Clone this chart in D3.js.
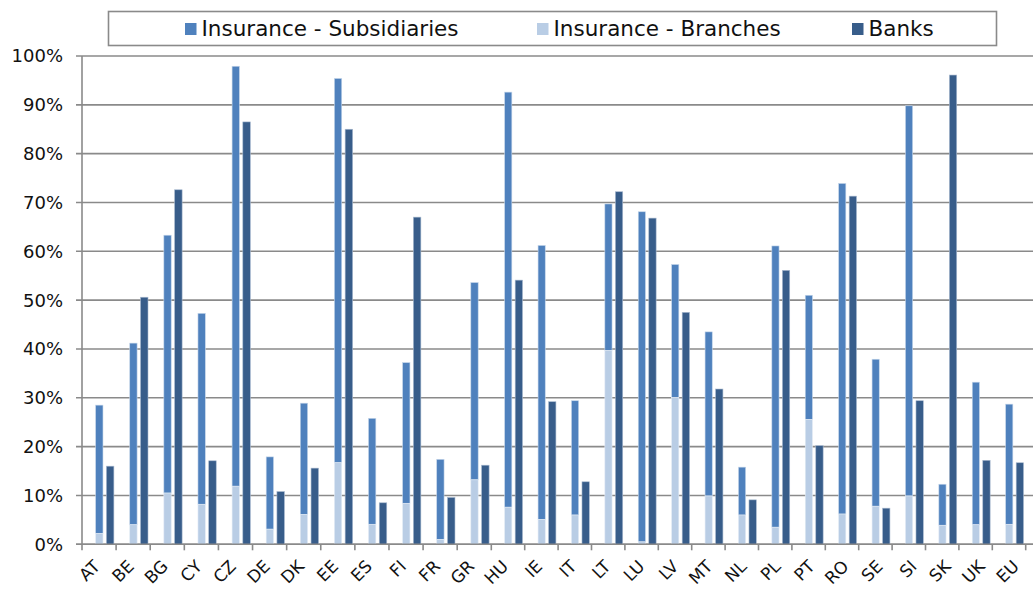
<!DOCTYPE html>
<meta charset="utf-8">
<script src="https://d3js.org/d3.v7.min.js"></script>
<style>
  body { margin: 0; background: #fff; }
  text { font-family: "DejaVu Sans", Verdana, sans-serif; fill: #111; }
</style>
<div id="my_dataviz"></div>
<script>

// categories and values (share, %)
var countries = ["AT","BE","BG","CY","CZ","DE","DK","EE","ES","FI","FR","GR","HU","IE",
                 "IT","LT","LU","LV","MT","NL","PL","PT","RO","SE","SI","SK","UK","EU"];

// total insurance (subsidiaries + branches), i.e. top of the stacked bar
var insuranceTotal = [28.5,41.2,63.3,47.3,97.9,17.9,28.9,95.4,25.8,37.2,17.4,53.6,92.6,61.2,
                      29.4,69.7,68.1,57.3,43.5,15.8,61.1,51.0,73.9,37.9,89.8,12.3,33.2,28.7];
// branches part (bottom of the stack)
var insuranceBranches = [2.2,4.0,10.5,8.2,11.9,3.1,6.1,16.7,4.1,8.4,1.0,13.2,7.6,5.1,
                         6.0,39.7,0.5,30.1,9.9,6.0,3.5,25.6,6.2,7.8,9.9,3.9,4.0,4.1];
var banks = [16.0,50.6,72.6,17.1,86.5,10.8,15.6,85.0,8.5,67.0,9.6,16.2,54.1,29.2,
             12.8,72.2,66.8,47.5,31.8,9.1,56.1,20.2,71.3,7.4,29.4,96.1,17.2,16.7];

var yTicks = [0,10,20,30,40,50,60,70,80,90,100];
var seriesNames = ["Insurance - Subsidiaries", "Insurance - Branches", "Banks"];
var colors = ["#4F81BD", "#B9CDE5", "#385D8A"];

var width = 1033, height = 589;

var svg = d3.select("#my_dataviz")
  .append("svg")
    .attr("width", width)
    .attr("height", height);

// category slot edges (the picture is not quite even: left half is a bit wider)
var xEdge = d3.scaleLinear()
  .domain([0, 12, countries.length])
  .range([82, 491.3, 1025.7]);

function slotX(i) { return xEdge(i); }
function slotW(i) { return xEdge(i + 1) - xEdge(i); }

// labels sit on an even band scale
var xLab = d3.scaleBand()
  .domain(countries)
  .range([82, 1035]);

var y = d3.scaleLinear()
  .domain([0, 100])
  .range([544.3, 56]);

// gridlines
svg.append("g")
  .selectAll("line")
  .data(yTicks)
  .enter()
  .append("line")
    .attr("x1", 76)
    .attr("x2", width)
    .attr("y1", function(d) { return y(d); })
    .attr("y2", function(d) { return y(d); })
    .style("stroke", "#8a8a8a")
    .style("stroke-width", 1.6);

// y labels
svg.append("g")
  .selectAll("text")
  .data(yTicks)
  .enter()
  .append("text")
    .attr("x", 63)
    .attr("y", function(d) { return y(d); })
    .attr("dy", "0.36em")
    .attr("text-anchor", "end")
    .style("font-size", "18px")
    .text(function(d) { return d + "%"; });

// insurance subsidiaries (upper part of the stack)
svg.append("g")
  .selectAll("rect")
  .data(countries)
  .enter()
  .append("rect")
    .attr("x", function(d, i) { return slotX(i) + slotW(i) * 0.40; })
    .attr("width", function(d, i) { return slotW(i) * 0.215; })
    .attr("y", function(d, i) { return y(insuranceTotal[i]); })
    .attr("height", function(d, i) { return y(insuranceBranches[i]) - y(insuranceTotal[i]); })
    .style("fill", colors[0])
    .style("stroke", "#c5d6ea")
    .style("stroke-width", 0.6);

// insurance branches (bottom of the stack)
svg.append("g")
  .selectAll("rect")
  .data(countries)
  .enter()
  .append("rect")
    .attr("x", function(d, i) { return slotX(i) + slotW(i) * 0.40; })
    .attr("width", function(d, i) { return slotW(i) * 0.215; })
    .attr("y", function(d, i) { return y(insuranceBranches[i]); })
    .attr("height", function(d, i) { return y(0) - y(insuranceBranches[i]); })
    .style("fill", colors[1])
    .style("stroke", "#e3ebf5")
    .style("stroke-width", 0.6);

// bank bars
svg.append("g")
  .selectAll("rect")
  .data(countries)
  .enter()
  .append("rect")
    .attr("x", function(d, i) { return slotX(i) + slotW(i) * 0.715; })
    .attr("width", function(d, i) { return slotW(i) * 0.22; })
    .attr("y", function(d, i) { return y(banks[i]); })
    .attr("height", function(d, i) { return y(0) - y(banks[i]); })
    .style("fill", colors[2])
    .style("stroke", "#a9bad0")
    .style("stroke-width", 0.6);

// axis lines
svg.append("line")
  .attr("x1", 82).attr("x2", 82)
  .attr("y1", y(100)).attr("y2", y(0) + 6)
  .style("stroke", "#8a8a8a").style("stroke-width", 1.6);

svg.append("line")
  .attr("x1", 76).attr("x2", width)
  .attr("y1", y(0)).attr("y2", y(0))
  .style("stroke", "#8a8a8a").style("stroke-width", 1.6);

// x tick marks at slot boundaries
svg.append("g")
  .selectAll("line")
  .data(d3.range(1, countries.length + 1))
  .enter()
  .append("line")
    .attr("x1", function(i) { return slotX(i); })
    .attr("x2", function(i) { return slotX(i); })
    .attr("y1", y(0))
    .attr("y2", y(0) + 6)
    .style("stroke", "#8a8a8a")
    .style("stroke-width", 1.6);

// x labels
svg.append("g")
  .selectAll("text")
  .data(countries)
  .enter()
  .append("text")
    .attr("transform", function(d) {
      return "translate(" + (xLab(d) + xLab.bandwidth() / 2 - 5.5) + "," + 560 + ") rotate(-45)";
    })
    .attr("dy", "0.62em")
    .attr("text-anchor", "end")
    .style("font-size", "17px")
    .text(function(d) { return d; });

// legend
svg.append("rect")
  .attr("x", 108.5).attr("y", 11.5)
  .attr("width", 888).attr("height", 34)
  .style("fill", "#fff")
  .style("stroke", "#8a8a8a")
  .style("stroke-width", 1.6);

var legendX = [185, 537, 852];
var legend = svg.append("g")
  .selectAll("g")
  .data(seriesNames)
  .enter()
  .append("g")
    .attr("transform", function(d, i) { return "translate(" + legendX[i] + ",0)"; });

legend.append("rect")
  .attr("x", 0).attr("y", 23)
  .attr("width", 11.5).attr("height", 12)
  .style("fill", function(d, i) { return colors[i]; });

legend.append("text")
  .attr("x", 16.5)
  .attr("y", 35.5)
  .style("font-size", "21.5px")
  .text(function(d) { return d; });

</script>
